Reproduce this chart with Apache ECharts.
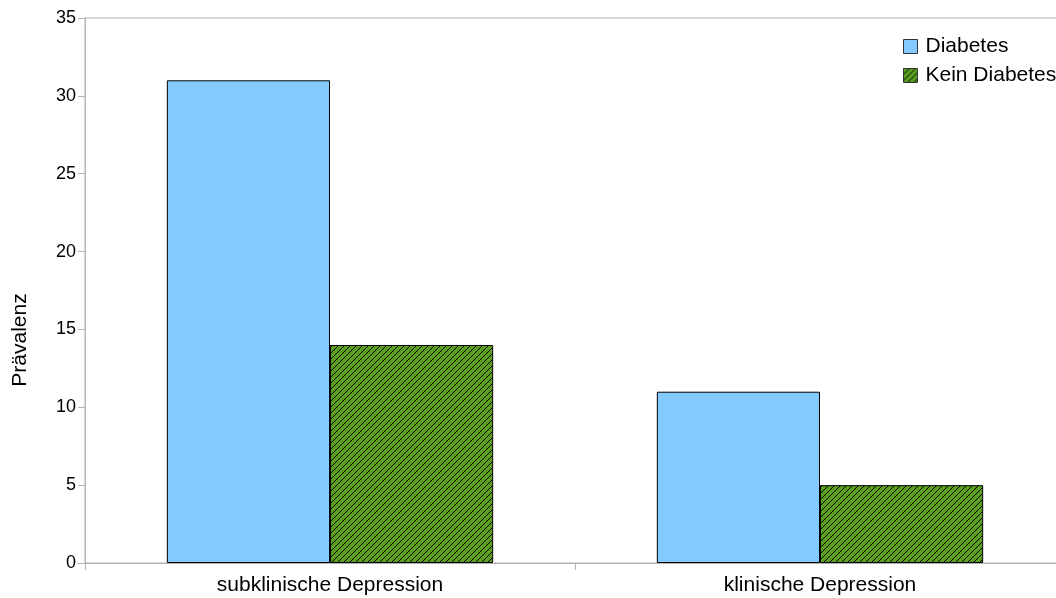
<!DOCTYPE html>
<html>
<head>
<meta charset="utf-8">
<script src="https://cdn.jsdelivr.net/npm/echarts@6/dist/echarts.min.js"></script>
<style>
  html, body { margin: 0; padding: 0; background: #fff; }
  #chart { width: 1056px; height: 598px; }
</style>
</head>
<body>
<div id="chart"></div>
<script>
// Prävalenz depressiver Symptome nach Diabetesstatus
const categories = ['subklinische Depression', 'klinische Depression'];
const diabetes = [31, 11];
const keinDiabetes = [14, 5];
const yTicks = [0, 5, 10, 15, 20, 25, 30, 35];
const yAxisTitle = 'Prävalenz';

const FONT = '"Liberation Sans", Arial, sans-serif';

// Green fill with black diagonal hatching (///)
function hatchPattern() {
  const s = 6;
  const c = document.createElement('canvas');
  c.width = s; c.height = s;
  const g = c.getContext('2d');
  g.fillStyle = '#5aa01e';
  g.fillRect(0, 0, s, s);
  g.strokeStyle = '#000';
  g.lineWidth = 1.0;
  g.beginPath();
  g.moveTo(-1, s + 1); g.lineTo(s + 1, -1);
  g.moveTo(-1, 1); g.lineTo(1, -1);
  g.moveTo(s - 1, s + 1); g.lineTo(s + 1, s - 1);
  g.stroke();
  return { image: c, repeat: 'repeat' };
}

const chart = echarts.init(document.getElementById('chart'), null, { renderer: 'canvas' });
chart.setOption({
  animation: false,
  textStyle: { fontFamily: FONT },
  grid: {
    left: 85, width: 980, top: 18, bottom: 35,
    outerBoundsMode: 'none',
    containLabel: false,
    show: true, borderColor: '#b3b3b3', borderWidth: 1, backgroundColor: '#fff'
  },
  legend: {
    orient: 'vertical',
    left: 898, top: 31,
    itemWidth: 14, itemHeight: 14, itemGap: 8,
    icon: 'rect',
    itemStyle: { borderColor: '#333', borderWidth: 1 },
    textStyle: { fontSize: 21, color: '#000', fontFamily: FONT, padding: [0, 0, 0, 3] },
    data: ['Diabetes', 'Kein Diabetes']
  },
  graphic: [{
    type: 'text',
    x: 20, y: 340,
    rotation: Math.PI / 2,
    style: {
      text: yAxisTitle,
      font: '21px ' + FONT,
      fill: '#000',
      align: 'center',
      verticalAlign: 'middle'
    }
  }],
  xAxis: {
    type: 'category',
    data: categories,
    axisLine: { lineStyle: { color: '#b3b3b3' } },
    axisTick: { show: true, length: 7, lineStyle: { color: '#b3b3b3' } },
    axisLabel: { fontSize: 21, color: '#000', margin: 12, fontFamily: FONT }
  },
  yAxis: {
    type: 'value',
    min: yTicks[0], max: yTicks[yTicks.length - 1], interval: 5,
    axisLine: { show: true, lineStyle: { color: '#b3b3b3' } },
    axisTick: { show: true, length: 7, lineStyle: { color: '#b3b3b3' } },
    splitLine: { show: false },
    axisLabel: { fontSize: 18, color: '#000', margin: 9, fontFamily: FONT }
  },
  series: [
    {
      name: 'Diabetes',
      type: 'bar',
      data: diabetes,
      barGap: '0%',
      barCategoryGap: '33.4%',
      itemStyle: { color: '#83caff', borderColor: '#000', borderWidth: 1 }
    },
    {
      name: 'Kein Diabetes',
      type: 'bar',
      data: keinDiabetes,
      itemStyle: { color: hatchPattern(), borderColor: '#000', borderWidth: 1 }
    }
  ]
});
</script>
</body>
</html>
